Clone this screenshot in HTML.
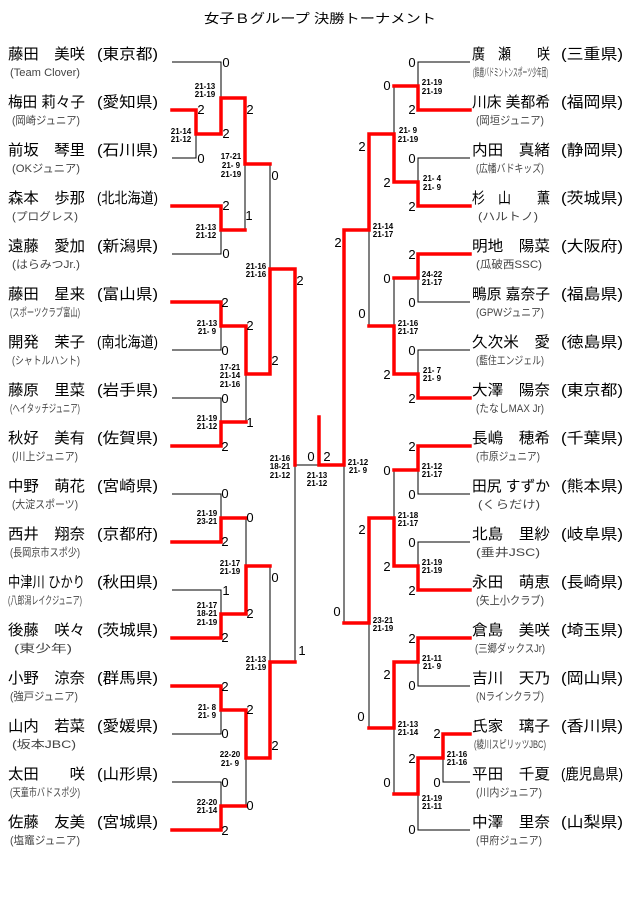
<!DOCTYPE html>
<html><head><meta charset="utf-8"><style>
html,body{margin:0;padding:0;background:#fff;}
svg{display:block;font-family:"Liberation Sans","Noto Sans CJK JP",sans-serif;}
.n{font-size:15px;fill:#000;}
.s{font-size:11px;fill:#444;}
.d{font-size:13px;fill:#000;text-anchor:middle;}
.m{font-size:8px;fill:#000;text-anchor:middle;font-weight:bold;}
.k{stroke:#000;stroke-width:1;fill:none;}
.r{stroke:#f00;stroke-width:3.5;fill:none;stroke-linecap:square;}
</style></head><body>
<svg width="640" height="905" viewBox="0 0 640 905" xmlns="http://www.w3.org/2000/svg">
<text x="320" y="23" font-size="13" text-anchor="middle" textLength="232" lengthAdjust="spacingAndGlyphs">女子Ｂグループ 決勝トーナメント</text>

<!-- Left names -->
<g class="n">
<text x="8" y="59" textLength="77" lengthAdjust="spacingAndGlyphs">藤田　美咲</text><text x="97" y="59" textLength="61" lengthAdjust="spacingAndGlyphs">(東京都)</text>
<text x="8" y="107" textLength="77" lengthAdjust="spacingAndGlyphs">梅田 莉々子</text><text x="97" y="107" textLength="61" lengthAdjust="spacingAndGlyphs">(愛知県)</text>
<text x="8" y="155" textLength="77" lengthAdjust="spacingAndGlyphs">前坂　琴里</text><text x="97" y="155" textLength="61" lengthAdjust="spacingAndGlyphs">(石川県)</text>
<text x="8" y="203" textLength="77" lengthAdjust="spacingAndGlyphs">森本　歩那</text><text x="97" y="203" textLength="61" lengthAdjust="spacingAndGlyphs">(北北海道)</text>
<text x="8" y="251" textLength="77" lengthAdjust="spacingAndGlyphs">遠藤　愛加</text><text x="97" y="251" textLength="61" lengthAdjust="spacingAndGlyphs">(新潟県)</text>
<text x="8" y="299" textLength="77" lengthAdjust="spacingAndGlyphs">藤田　星来</text><text x="97" y="299" textLength="61" lengthAdjust="spacingAndGlyphs">(富山県)</text>
<text x="8" y="347" textLength="77" lengthAdjust="spacingAndGlyphs">開発　茉子</text><text x="97" y="347" textLength="61" lengthAdjust="spacingAndGlyphs">(南北海道)</text>
<text x="8" y="395" textLength="77" lengthAdjust="spacingAndGlyphs">藤原　里菜</text><text x="97" y="395" textLength="61" lengthAdjust="spacingAndGlyphs">(岩手県)</text>
<text x="8" y="443" textLength="77" lengthAdjust="spacingAndGlyphs">秋好　美有</text><text x="97" y="443" textLength="61" lengthAdjust="spacingAndGlyphs">(佐賀県)</text>
<text x="8" y="491" textLength="77" lengthAdjust="spacingAndGlyphs">中野　萌花</text><text x="97" y="491" textLength="61" lengthAdjust="spacingAndGlyphs">(宮崎県)</text>
<text x="8" y="539" textLength="77" lengthAdjust="spacingAndGlyphs">西井　翔奈</text><text x="97" y="539" textLength="61" lengthAdjust="spacingAndGlyphs">(京都府)</text>
<text x="8" y="587" textLength="77" lengthAdjust="spacingAndGlyphs">中津川 ひかり</text><text x="97" y="587" textLength="61" lengthAdjust="spacingAndGlyphs">(秋田県)</text>
<text x="8" y="635" textLength="77" lengthAdjust="spacingAndGlyphs">後藤　咲々</text><text x="97" y="635" textLength="61" lengthAdjust="spacingAndGlyphs">(茨城県)</text>
<text x="8" y="683" textLength="77" lengthAdjust="spacingAndGlyphs">小野　涼奈</text><text x="97" y="683" textLength="61" lengthAdjust="spacingAndGlyphs">(群馬県)</text>
<text x="8" y="731" textLength="77" lengthAdjust="spacingAndGlyphs">山内　若菜</text><text x="97" y="731" textLength="61" lengthAdjust="spacingAndGlyphs">(愛媛県)</text>
<text x="8" y="779" textLength="77" lengthAdjust="spacingAndGlyphs">太田　　咲</text><text x="97" y="779" textLength="61" lengthAdjust="spacingAndGlyphs">(山形県)</text>
<text x="8" y="827" textLength="77" lengthAdjust="spacingAndGlyphs">佐藤　友美</text><text x="97" y="827" textLength="61" lengthAdjust="spacingAndGlyphs">(宮城県)</text>
</g>
<g class="s">
<text x="10" y="76" textLength="70" lengthAdjust="spacingAndGlyphs">(Team Clover)</text>
<text x="12" y="124" textLength="68" lengthAdjust="spacingAndGlyphs">(岡崎ジュニア)</text>
<text x="12" y="172" textLength="68" lengthAdjust="spacingAndGlyphs">(OKジュニア)</text>
<text x="12" y="220" textLength="66" lengthAdjust="spacingAndGlyphs">(プログレス)</text>
<text x="12" y="268" textLength="68" lengthAdjust="spacingAndGlyphs">(はらみつJr.)</text>
<text x="10" y="316" textLength="70" lengthAdjust="spacingAndGlyphs">(スポーツクラブ富山)</text>
<text x="12" y="364" textLength="68" lengthAdjust="spacingAndGlyphs">(シャトルハント)</text>
<text x="10" y="412" textLength="70" lengthAdjust="spacingAndGlyphs">(ヘイタッチジュニア)</text>
<text x="12" y="460" textLength="66" lengthAdjust="spacingAndGlyphs">(川上ジュニア)</text>
<text x="12" y="508" textLength="66" lengthAdjust="spacingAndGlyphs">(大淀スポーツ)</text>
<text x="10" y="556" textLength="70" lengthAdjust="spacingAndGlyphs">(長岡京市スポ少)</text>
<text x="8" y="604" textLength="74" lengthAdjust="spacingAndGlyphs">(八郎潟レイクジュニア)</text>
<text x="14" y="652" textLength="58" lengthAdjust="spacingAndGlyphs">(東少年)</text>
<text x="10" y="700" textLength="68" lengthAdjust="spacingAndGlyphs">(強戸ジュニア)</text>
<text x="12" y="748" textLength="64" lengthAdjust="spacingAndGlyphs">(坂本JBC)</text>
<text x="10" y="796" textLength="70" lengthAdjust="spacingAndGlyphs">(天童市バドスポ少)</text>
<text x="10" y="844" textLength="70" lengthAdjust="spacingAndGlyphs">(塩竈ジュニア)</text>
</g>

<!-- Right names -->
<g class="n">
<text x="472" y="59" textLength="78" lengthAdjust="spacingAndGlyphs">廣　瀬　　咲</text><text x="561" y="59" textLength="62" lengthAdjust="spacingAndGlyphs">(三重県)</text>
<text x="472" y="107" textLength="78" lengthAdjust="spacingAndGlyphs">川床 美都希</text><text x="561" y="107" textLength="62" lengthAdjust="spacingAndGlyphs">(福岡県)</text>
<text x="472" y="155" textLength="78" lengthAdjust="spacingAndGlyphs">内田　真緒</text><text x="561" y="155" textLength="62" lengthAdjust="spacingAndGlyphs">(静岡県)</text>
<text x="472" y="203" textLength="78" lengthAdjust="spacingAndGlyphs">杉　山　　薫</text><text x="561" y="203" textLength="62" lengthAdjust="spacingAndGlyphs">(茨城県)</text>
<text x="472" y="251" textLength="78" lengthAdjust="spacingAndGlyphs">明地　陽菜</text><text x="561" y="251" textLength="62" lengthAdjust="spacingAndGlyphs">(大阪府)</text>
<text x="472" y="299" textLength="78" lengthAdjust="spacingAndGlyphs">鴫原 嘉奈子</text><text x="561" y="299" textLength="62" lengthAdjust="spacingAndGlyphs">(福島県)</text>
<text x="472" y="347" textLength="78" lengthAdjust="spacingAndGlyphs">久次米　愛</text><text x="561" y="347" textLength="62" lengthAdjust="spacingAndGlyphs">(徳島県)</text>
<text x="472" y="395" textLength="78" lengthAdjust="spacingAndGlyphs">大澤　陽奈</text><text x="561" y="395" textLength="62" lengthAdjust="spacingAndGlyphs">(東京都)</text>
<text x="472" y="443" textLength="78" lengthAdjust="spacingAndGlyphs">長嶋　穂希</text><text x="561" y="443" textLength="62" lengthAdjust="spacingAndGlyphs">(千葉県)</text>
<text x="472" y="491" textLength="78" lengthAdjust="spacingAndGlyphs">田尻 すずか</text><text x="561" y="491" textLength="62" lengthAdjust="spacingAndGlyphs">(熊本県)</text>
<text x="472" y="539" textLength="78" lengthAdjust="spacingAndGlyphs">北島　里紗</text><text x="561" y="539" textLength="62" lengthAdjust="spacingAndGlyphs">(岐阜県)</text>
<text x="472" y="587" textLength="78" lengthAdjust="spacingAndGlyphs">永田　萌恵</text><text x="561" y="587" textLength="62" lengthAdjust="spacingAndGlyphs">(長崎県)</text>
<text x="472" y="635" textLength="78" lengthAdjust="spacingAndGlyphs">倉島　美咲</text><text x="561" y="635" textLength="62" lengthAdjust="spacingAndGlyphs">(埼玉県)</text>
<text x="472" y="683" textLength="78" lengthAdjust="spacingAndGlyphs">吉川　天乃</text><text x="561" y="683" textLength="62" lengthAdjust="spacingAndGlyphs">(岡山県)</text>
<text x="472" y="731" textLength="78" lengthAdjust="spacingAndGlyphs">氏家　璃子</text><text x="561" y="731" textLength="62" lengthAdjust="spacingAndGlyphs">(香川県)</text>
<text x="472" y="779" textLength="78" lengthAdjust="spacingAndGlyphs">平田　千夏</text><text x="561" y="779" textLength="62" lengthAdjust="spacingAndGlyphs">(鹿児島県)</text>
<text x="472" y="827" textLength="78" lengthAdjust="spacingAndGlyphs">中澤　里奈</text><text x="561" y="827" textLength="62" lengthAdjust="spacingAndGlyphs">(山梨県)</text>
</g>
<g class="s">
<text x="473" y="76" textLength="75" lengthAdjust="spacingAndGlyphs">(鈴鹿バドミントンスポーツ少年団)</text>
<text x="476" y="124" textLength="68" lengthAdjust="spacingAndGlyphs">(岡垣ジュニア)</text>
<text x="476" y="172" textLength="68" lengthAdjust="spacingAndGlyphs">(広幡バドキッズ)</text>
<text x="478" y="220" textLength="60" lengthAdjust="spacingAndGlyphs">(ハルトノ)</text>
<text x="476" y="268" textLength="66" lengthAdjust="spacingAndGlyphs">(瓜破西SSC)</text>
<text x="476" y="316" textLength="68" lengthAdjust="spacingAndGlyphs">(GPWジュニア)</text>
<text x="476" y="364" textLength="68" lengthAdjust="spacingAndGlyphs">(藍住エンジェル)</text>
<text x="476" y="412" textLength="68" lengthAdjust="spacingAndGlyphs">(たなしMAX Jr)</text>
<text x="476" y="460" textLength="64" lengthAdjust="spacingAndGlyphs">(市原ジュニア)</text>
<text x="478" y="508" textLength="62" lengthAdjust="spacingAndGlyphs">(くらだけ)</text>
<text x="476" y="556" textLength="64" lengthAdjust="spacingAndGlyphs">(垂井JSC)</text>
<text x="476" y="604" textLength="68" lengthAdjust="spacingAndGlyphs">(矢上小クラブ)</text>
<text x="475" y="652" textLength="70" lengthAdjust="spacingAndGlyphs">(三郷ダックスJr)</text>
<text x="476" y="700" textLength="68" lengthAdjust="spacingAndGlyphs">(Nラインクラブ)</text>
<text x="474" y="748" textLength="72" lengthAdjust="spacingAndGlyphs">(綾川スピリッツJBC)</text>
<text x="476" y="796" textLength="66" lengthAdjust="spacingAndGlyphs">(川内ジュニア)</text>
<text x="476" y="844" textLength="66" lengthAdjust="spacingAndGlyphs">(甲府ジュニア)</text>
</g>

<!-- Black lines -->
<path class="k" d="
M172 62H221V98
M172 158H196V134
M245 164V230
M172 254H221V230
M270 164V269
M172 350H221V326
M172 398H221V422
M246 374V422
M172 494H221V518
M246 518V566
M172 590H221V614
M270 566V662
M295 465V662
M295 465H319
M470 62H418V86
M394 86V134
M470 158H418V182
M369 230V326
M470 302H418V278
M394 278V326
M470 350H418V374
M344 465V623
M470 494H418V470
M394 470V518
M470 542H418V566
M369 623V728
M470 686H418V662
M394 728V794
M470 782H443V758
M470 830H418V794
M172 734H221V710
M172 782H221V806
M246 758V806
"/>
<!-- Red lines -->
<path class="r" d="
M172 110H196V134H221V98H245V164H270
M172 206H221V230H245
M172 302H221V326H246V374H270V269H295V465
M172 446H221V422H246
M172 542H221V518H246
M172 638H221V614H246V566H270
M172 686H221V710H246V758H270V662H295
M172 830H221V806H246
M319 417V465H344V230H369V134H394V182H418V206H470
M470 110H418V86H394
M470 254H418V278H394
M470 398H418V374H394V326H369
M470 446H418V470H394
M470 590H418V566H394V518H369V623H344
M470 638H418V662H394V728H369
M470 734H443V758H418V794H394
"/>

<g class="d">
<text x="226" y="67">0</text><text x="201" y="114">2</text><text x="226" y="138">2</text><text x="201" y="163">0</text>
<text x="250" y="114">2</text><text x="275" y="180">0</text>
<text x="226" y="210">2</text><text x="249" y="220">1</text><text x="226" y="258">0</text>
<text x="300" y="285">2</text>
<text x="225" y="307">2</text><text x="250" y="330">2</text><text x="225" y="355">0</text>
<text x="275" y="365">2</text>
<text x="225" y="403">0</text><text x="250" y="427">1</text><text x="225" y="451">2</text>
<text x="311" y="461">0</text><text x="327" y="461">2</text>
<text x="225" y="498">0</text><text x="250" y="522">0</text><text x="225" y="546">2</text>
<text x="275" y="582">0</text>
<text x="226" y="595">1</text><text x="250" y="618">2</text><text x="225" y="642">2</text>
<text x="302" y="655">1</text>
<text x="225" y="691">2</text><text x="250" y="714">2</text><text x="225" y="738">0</text>
<text x="275" y="750">2</text>
<text x="225" y="787">0</text><text x="250" y="810">0</text><text x="225" y="835">2</text>
</g>
<g class="d">
<text x="412" y="67">0</text><text x="387" y="90">0</text><text x="412" y="114">2</text>
<text x="362" y="151">2</text>
<text x="412" y="163">0</text><text x="387" y="187">2</text><text x="412" y="211">2</text>
<text x="338" y="247">2</text>
<text x="412" y="259">2</text><text x="387" y="283">0</text><text x="412" y="307">0</text>
<text x="362" y="318">0</text>
<text x="412" y="355">0</text><text x="387" y="379">2</text><text x="412" y="403">2</text>
<text x="412" y="451">2</text><text x="387" y="475">0</text><text x="412" y="499">0</text>
<text x="362" y="534">2</text>
<text x="412" y="547">0</text><text x="387" y="571">2</text><text x="412" y="595">2</text>
<text x="337" y="616">0</text>
<text x="412" y="643">2</text><text x="387" y="679">2</text><text x="412" y="690">0</text>
<text x="361" y="721">0</text>
<text x="437" y="738">2</text><text x="412" y="763">2</text><text x="437" y="787">0</text>
<text x="387" y="787">0</text><text x="412" y="834">0</text>
</g>

<g class="m">
<text x="205" y="89">21-13</text><text x="205" y="97">21-19</text>
<text x="181" y="134">21-14</text><text x="181" y="142">21-12</text>
<text x="231" y="159">17-21</text><text x="231" y="168">21- 9</text><text x="231" y="177">21-19</text>
<text x="206" y="230">21-13</text><text x="206" y="238">21-12</text>
<text x="256" y="269">21-16</text><text x="256" y="277">21-16</text>
<text x="207" y="326">21-13</text><text x="207" y="334">21- 9</text>
<text x="230" y="370">17-21</text><text x="230" y="378">21-14</text><text x="230" y="387">21-16</text>
<text x="207" y="421">21-19</text><text x="207" y="429">21-12</text>
<text x="280" y="461">21-16</text><text x="280" y="469">18-21</text><text x="280" y="478">21-12</text>
<text x="317" y="478">21-13</text><text x="317" y="486">21-12</text>
<text x="358" y="465">21-12</text><text x="358" y="473">21- 9</text>
<text x="207" y="516">21-19</text><text x="207" y="524">23-21</text>
<text x="230" y="566">21-17</text><text x="230" y="574">21-19</text>
<text x="207" y="608">21-17</text><text x="207" y="616">18-21</text><text x="207" y="625">21-19</text>
<text x="256" y="662">21-13</text><text x="256" y="670">21-19</text>
<text x="207" y="710">21- 8</text><text x="207" y="718">21- 9</text>
<text x="230" y="757">22-20</text><text x="230" y="766">21- 9</text>
<text x="207" y="805">22-20</text><text x="207" y="813">21-14</text>

<text x="432" y="85">21-19</text><text x="432" y="94">21-19</text>
<text x="408" y="133">21- 9</text><text x="408" y="142">21-19</text>
<text x="432" y="181">21- 4</text><text x="432" y="190">21- 9</text>
<text x="383" y="229">21-14</text><text x="383" y="237">21-17</text>
<text x="432" y="277">24-22</text><text x="432" y="285">21-17</text>
<text x="408" y="326">21-16</text><text x="408" y="334">21-17</text>
<text x="432" y="373">21- 7</text><text x="432" y="381">21- 9</text>
<text x="432" y="469">21-12</text><text x="432" y="477">21-17</text>
<text x="408" y="518">21-18</text><text x="408" y="526">21-17</text>
<text x="432" y="565">21-19</text><text x="432" y="573">21-19</text>
<text x="383" y="623">23-21</text><text x="383" y="631">21-19</text>
<text x="432" y="661">21-11</text><text x="432" y="669">21- 9</text>
<text x="408" y="727">21-13</text><text x="408" y="735">21-14</text>
<text x="457" y="757">21-16</text><text x="457" y="765">21-16</text>
<text x="432" y="801">21-19</text><text x="432" y="809">21-11</text>
</g>
</svg>
</body></html>
